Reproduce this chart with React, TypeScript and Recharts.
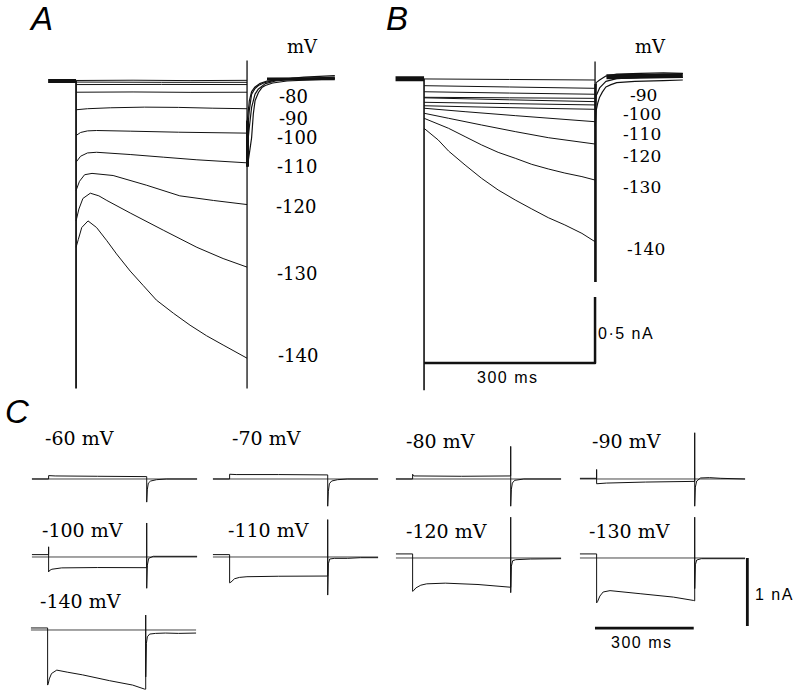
import React from 'react';
import { LineChart, Line, XAxis, YAxis } from 'recharts';

type P = [number, number]; // [time ms, current nA]

// ---------- panel A ----------
const aPre: P[] = [[-49, 0], [0, 0]];
const a50: P[] = [[0, 0.004], [100, 0.006], [200, 0.003], [300, 0.005]];
const a60: P[] = [[0, -0.008], [150, -0.01], [300, -0.01]];
const a70: P[] = [[0, -0.027], [150, -0.026], [300, -0.027]];
const a80: P[] = [[0, -0.085], [100, -0.083], [200, -0.086], [300, -0.085]];
const a90: P[] = [[0, -0.218], [20, -0.21], [60, -0.203], [120, -0.198], [180, -0.2], [240, -0.206], [300, -0.21]];
const a100: P[] = [[0, -0.413], [8, -0.39], [20, -0.378], [36, -0.375], [95, -0.38], [180, -0.388], [300, -0.395]];
const a110: P[] = [[0, -0.615], [8, -0.57], [20, -0.545], [36, -0.54], [95, -0.557], [153, -0.577], [212, -0.597], [300, -0.62]];
const a120: P[] = [[0, -0.83], [6, -0.76], [15, -0.71], [28, -0.7], [65, -0.716], [124, -0.79], [182, -0.87], [241, -0.905], [300, -0.936]];
const a130: P[] = [[0, -1.06], [5, -0.97], [12, -0.89], [25, -0.85], [40, -0.87], [54, -0.905], [95, -1.0], [153, -1.13], [212, -1.26], [258, -1.345], [300, -1.41]];
const a140: P[] = [[0, -1.26], [4, -1.2], [10, -1.11], [21, -1.06], [36, -1.11], [54, -1.21], [71, -1.31], [95, -1.44], [118, -1.55], [141, -1.66], [171, -1.76], [200, -1.85], [229, -1.93], [258, -2.0], [300, -2.1]];
const aTail1: P[] = [[300.5, -0.65], [304, -0.55], [308, -0.43], [311, -0.25], [314, -0.15], [320, -0.087], [326, -0.05], [332, -0.034], [345, -0.015], [370, 0], [420, 0.01], [454, 0.015]];
const aTail2: P[] = [[300.5, -0.5], [304, -0.35], [308, -0.2], [314, -0.1], [320, -0.06], [332, -0.02], [350, 0], [400, 0.02], [454, 0.03]];
const aTail3: P[] = [[300.5, -0.4], [304, -0.22], [308, -0.1], [314, -0.057], [320, -0.034], [332, -0.01], [355, 0.01], [400, 0.03], [454, 0.04]];
const aTail4: P[] = [[300.5, -0.3], [304, -0.15], [308, -0.08], [314, -0.045], [322, -0.02], [335, 0], [380, 0.02], [454, 0.02]];
const aPost: P[] = [[335, 0.015], [454, 0.018]];
const aOn: P[] = [[0, 0], [0, -2.33]];
const aOff: P[] = [[300, 0.155], [300, -2.33]];
const aOffThick: P[] = [[300.8, -0.3], [300.8, -0.65]];

// ---------- panel B ----------
const bPre: P[] = [[-50, 0.01], [0, 0.01]];
const b40: P[] = [[0, 0.008], [150, 0.004], [300, 0]];
const b50: P[] = [[0, -0.043], [150, -0.053], [300, -0.063]];
const b60: P[] = [[0, -0.089], [150, -0.099], [300, -0.108]];
const b70: P[] = [[0, -0.131], [150, -0.135], [300, -0.139]];
const b80: P[] = [[0, -0.135], [150, -0.15], [300, -0.164]];
const b90: P[] = [[0, -0.169], [150, -0.179], [300, -0.189]];
const b100: P[] = [[0, -0.195], [100, -0.205], [200, -0.214], [300, -0.222]];
const b110: P[] = [[0, -0.214], [72, -0.24], [160, -0.27], [300, -0.316]];
const b120: P[] = [[0, -0.252], [43, -0.29], [101, -0.341], [160, -0.391], [218, -0.437], [300, -0.485]];
const b130: P[] = [[0, -0.29], [43, -0.366], [72, -0.429], [101, -0.492], [130, -0.548], [160, -0.593], [189, -0.639], [218, -0.674], [247, -0.705], [277, -0.732], [300, -0.758]];
const b140: P[] = [[0, -0.366], [25, -0.455], [43, -0.538], [72, -0.644], [101, -0.745], [130, -0.833], [160, -0.909], [189, -0.977], [218, -1.043], [247, -1.098], [277, -1.162], [300, -1.225]];
const bTail1: P[] = [[300.5, -0.35], [302, -0.23], [305, -0.17], [308, -0.13], [313, -0.09], [319, -0.053], [328, -0.035], [338, -0.02], [370, -0.01], [420, -0.005], [454, 0]];
const bTail2: P[] = [[300.5, -0.2], [302, -0.12], [308, -0.06], [319, -0.01], [338, 0.01], [380, 0.02], [454, 0.02]];
const bTail3: P[] = [[300.5, -0.1], [302, -0.02], [308, 0], [319, 0.03], [338, 0.045], [380, 0.05], [420, 0.055], [454, 0.05]];
const bPost: P[] = [[320, 0.025], [454, 0.035]];
const bOn: P[] = [[0, 0.01], [0, -2.35]];
const bOff: P[] = [[300, 0.14], [300, -1.53]];
const bOffThick: P[] = [[300.8, -0.03], [300.8, -1.53]];
const bBar: P[] = [[300, -1.644], [300, -2.144], [0, -2.144]];

// ---------- panel C ----------
const cZero: P[] = [[-51, 0], [454, 0]];
const c60: P[] = [[-51, 0], [0, 0], [0, 0.05], [20, 0.045], [150, 0.04], [300, 0.035], [300, -0.34], [302, -0.15], [305, -0.06], [312, -0.03], [330, -0.01], [360, 0], [454, 0]];
const c70: P[] = [[-51, 0], [0, 0], [0, 0.07], [20, 0.065], [150, 0.065], [300, 0.06], [300, -0.4], [302, -0.18], [305, -0.07], [312, -0.03], [330, -0.01], [360, 0], [454, 0]];
const c80: P[] = [[-51, 0], [0, 0], [0, 0.07], [3, 0.045], [150, 0.04], [300, 0.045], [300, 0.48], [300, -0.4], [302, -0.15], [305, -0.06], [312, -0.02], [340, 0], [454, 0]];
const c90: P[] = [[-51, 0.01], [0, 0.01], [0, 0.14], [0, -0.07], [30, -0.06], [150, -0.045], [300, -0.035], [300, 0.68], [300, -0.4], [302, -0.12], [306, -0.03], [318, 0.015], [345, 0.02], [380, 0.01], [454, 0]];
const c100: P[] = [[-51, 0.035], [0, 0.035], [0, 0.15], [0, -0.22], [2, -0.2], [10, -0.18], [40, -0.16], [150, -0.155], [300, -0.157], [300, 0.5], [300, -0.46], [302, -0.12], [306, -0.02], [320, 0.01], [454, 0.01]];
const c110: P[] = [[-51, 0.035], [0, 0.035], [0, -0.38], [4, -0.37], [15, -0.32], [30, -0.3], [53, -0.29], [150, -0.283], [300, -0.28], [300, 0.55], [300, -0.56], [302, -0.1], [306, -0.03], [320, -0.02], [360, -0.02], [400, -0.01], [454, -0.01]];
const c120: P[] = [[-51, 0.06], [0, 0.06], [0, -0.49], [3, -0.48], [10, -0.44], [25, -0.4], [43, -0.38], [100, -0.37], [200, -0.39], [300, -0.43], [300, 0.6], [300, -0.51], [302, -0.12], [306, -0.04], [315, -0.025], [360, -0.015], [454, -0.01]];
const c130: P[] = [[-51, 0.06], [0, 0.06], [0, -0.66], [3, -0.64], [10, -0.56], [20, -0.5], [41, -0.48], [133, -0.525], [235, -0.575], [297, -0.625], [300, -0.63], [300, 0.6], [300, -0.45], [302, -0.1], [306, -0.03], [320, -0.01], [454, -0.01]];
const c140: P[] = [[-51, 0.03], [0, 0.03], [0, -0.81], [2, -0.79], [5, -0.72], [12, -0.64], [28, -0.59], [60, -0.62], [107, -0.66], [189, -0.745], [260, -0.81], [297, -0.87], [300, -0.87], [300, 0.22], [300, -0.69], [302, -0.2], [305, -0.1], [312, -0.06], [330, -0.05], [360, -0.045], [400, -0.05], [454, -0.045]];
const cBarI: P[] = [[461, 0], [461, -1.0]];
const cBarT: P[] = [[-5, -1.03], [297, -1.03]];

// ---------- labels ----------
const aVolts = ['-80', '-90', '-100', '-110', '-120', '-130', '-140'];
const bVolts = ['-90', '-100', '-110', '-120', '-130', '-140'];
const cVolts = ['-60 mV', '-70 mV', '-80 mV', '-90 mV', '-100 mV', '-110 mV', '-120 mV', '-130 mV', '-140 mV'];
const cTraces = [c60, c70, c80, c90, c100, c110, c120, c130, c140];

// layout (px)
const aVoltPos: P[] = [[279, 103], [279, 125], [277, 144], [277, 173], [276, 213], [277, 280], [278, 362]];
const bVoltPos: P[] = [[630, 101], [623, 120], [623, 140], [623, 162], [623, 193], [627, 255]];
const cLabelPos: P[] = [[45, 445], [232, 445], [406, 448], [592, 448], [42, 537], [228, 537], [406, 538], [589, 538], [40, 608]];
const cOrigin: P[] = [[48.3, 479.3], [229.3, 479.3], [412.7, 479.3], [596.7, 479.3], [48.3, 556.7], [229.3, 556.7], [412.7, 558.3], [596.7, 558.3], [47.7, 630]];

const ink = '#111';
const serif = "'DejaVu Serif', serif";
const sans = "'Liberation Sans', Arial, sans-serif";

interface S { pts: P[]; w?: number; c?: string }

const rows = (pts: P[]) => pts.map(([t, i]) => ({ t, i }));

function Panel({ x0, y0, pxMs, pxNa, tDom, iDom, series }: {
  x0: number; y0: number; pxMs: number; pxNa: number; tDom: P; iDom: P; series: S[];
}) {
  const left = x0 + tDom[0] * pxMs;
  const top = y0 - iDom[1] * pxNa;
  const width = (tDom[1] - tDom[0]) * pxMs;
  const height = (iDom[1] - iDom[0]) * pxNa;
  return (
    <div style={{ position: 'absolute', left, top, width, height }}>
      <LineChart width={width} height={height} margin={{ top: 0, right: 0, bottom: 0, left: 0 }}>
        <XAxis type="number" dataKey="t" domain={tDom} hide allowDataOverflow />
        <YAxis type="number" domain={iDom} hide allowDataOverflow />
        {series.map((s, k) => (
          <Line key={k} data={rows(s.pts)} dataKey="i" type="linear" dot={false} activeDot={false}
            stroke={s.c ?? ink} strokeWidth={s.w ?? 1} strokeLinejoin="round" isAnimationActive={false} />
        ))}
      </LineChart>
    </div>
  );
}

const abT: P = [-65, 465];
const abI: P = [-2.4, 0.25];
const cT: P = [-60, 470];
const cI: P = [-1.2, 1.0];

export default function App() {
  const aSeries: S[] = [
    { pts: aPre, w: 4 },
    ...[a50, a60, a70, a80, a90, a100, a110, a120, a130, a140].map((pts) => ({ pts, w: 1 })),
    ...[aTail1, aTail2, aTail3, aTail4].map((pts) => ({ pts, w: 1.2 })),
    { pts: aPost, w: 3 },
    { pts: aOn, w: 1.8 },
    { pts: aOff, w: 1.3 },
    { pts: aOffThick, w: 3 },
  ];
  const bSeries: S[] = [
    { pts: bPre, w: 5 },
    ...[b40, b50, b60, b70, b80, b90, b100, b110, b120, b130, b140].map((pts) => ({ pts, w: 1 })),
    ...[bTail1, bTail2, bTail3].map((pts) => ({ pts, w: 1.2 })),
    { pts: bPost, w: 5 },
    { pts: bOn, w: 1.6 },
    { pts: bOff, w: 1.3 },
    { pts: bOffThick, w: 2.5 },
    { pts: bBar, w: 2.5 },
  ];
  return (
    <div style={{ position: 'absolute', left: 0, top: 0, width: 799, height: 700, background: '#fff', overflow: 'hidden' }}>
      <Panel x0={76} y0={80.5} pxMs={0.57} pxNa={132} tDom={abT} iDom={abI} series={aSeries} />
      <Panel x0={424} y0={80} pxMs={0.57} pxNa={132} tDom={abT} iDom={abI} series={bSeries} />
      {cTraces.map((pts, k) => {
        const series: S[] = [{ pts: cZero, w: 0.9, c: '#333' }, { pts, w: 1 }];
        if (k === 7) {
          series.push({ pts: cBarI, w: 2.8 }, { pts: cBarT, w: 2.8 });
        }
        return (
          <Panel key={k} x0={cOrigin[k][0]} y0={cOrigin[k][1]} pxMs={0.327} pxNa={68} tDom={cT} iDom={cI} series={series} />
        );
      })}
      <svg width={799} height={700} style={{ position: 'absolute', left: 0, top: 0, pointerEvents: 'none' }}>
        <g fill="#000" fontFamily={sans} fontStyle="italic" fontSize={33}>
          <text x={31} y={30}>A</text>
          <text x={386} y={30}>B</text>
          <text x={5} y={423}>C</text>
        </g>
        <g fill="#000" fontFamily={serif} fontSize={18}>
          <text x={287} y={53}>mV</text>
          <text x={635} y={53}>mV</text>
          {aVolts.map((v, k) => <text key={'a' + k} x={aVoltPos[k][0]} y={aVoltPos[k][1]}>{v}</text>)}
        </g>
        <g fill="#000" fontFamily={serif} fontSize={17}>
          {bVolts.map((v, k) => <text key={'b' + k} x={bVoltPos[k][0]} y={bVoltPos[k][1]}>{v}</text>)}
        </g>
        <g fill="#000" fontFamily={serif} fontSize={19}>
          {cVolts.map((v, k) => <text key={'c' + k} x={cLabelPos[k][0]} y={cLabelPos[k][1]}>{v}</text>)}
        </g>
        <g fill="#000" fontFamily={sans} fontSize={16} letterSpacing={1.5}>
          <text x={598} y={339}>0·5 nA</text>
          <text x={477} y={383}>300 ms</text>
          <text x={755} y={600}>1 nA</text>
          <text x={611} y={648}>300 ms</text>
        </g>
      </svg>
    </div>
  );
}
